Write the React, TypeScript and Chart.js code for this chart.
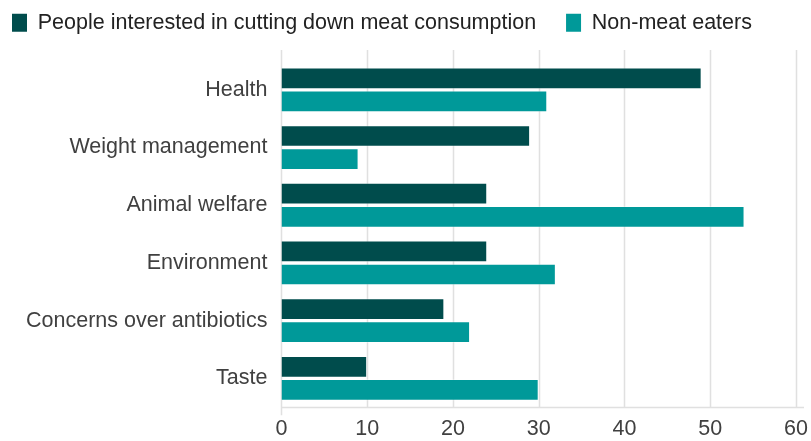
import React, { useEffect, useRef } from "react";
import { Chart, registerables } from "chart.js";

Chart.register(...registerables);

const categories = [
  "Health",
  "Weight management",
  "Animal welfare",
  "Environment",
  "Concerns over antibiotics",
  "Taste",
];
const seriesNames = [
  "People interested in cutting down meat consumption",
  "Non-meat eaters",
];
const reducers = [49, 29, 24, 24, 19, 10];
const nonMeatEaters = [31, 9, 54, 32, 22, 30];
const xTicks = [0, 10, 20, 30, 40, 50, 60];

const FONT = "'Liberation Sans', Arial, sans-serif";
const TEXT = "#404040";
const GRID = "#e0e0e0";

const legendMargin = {
  id: "legendMargin",
  beforeInit(chart: any) {
    const legend = chart.legend;
    if (!legend) return;
    const fit = legend.fit;
    legend.fit = function () {
      fit.call(legend);
      legend.height += 17.5;
    };
  },
};

const gridPlugin = {
  id: "extGrid",
  beforeDatasetsDraw(chart: any) {
    const { ctx, chartArea } = chart;
    const x = chart.scales.x;
    ctx.save();
    ctx.strokeStyle = GRID;
    ctx.lineWidth = 1.5;
    xTicks.forEach((v, i) => {
      const px = Math.round(x.getPixelForValue(v)) + 0.5;
      ctx.beginPath();
      ctx.moveTo(px, chartArea.top - 11);
      ctx.lineTo(px, chartArea.bottom + (i === 0 ? 8 : 0));
      ctx.stroke();
    });
    ctx.beginPath();
    ctx.moveTo(chartArea.left, Math.round(chartArea.bottom) + 0.5);
    ctx.lineTo(chartArea.right + 8, Math.round(chartArea.bottom) + 0.5);
    ctx.stroke();
    ctx.restore();
  },
};

export default function App() {
  const ref = useRef<HTMLCanvasElement | null>(null);
  useEffect(() => {
    if (!ref.current) return;
    const chart = new Chart(ref.current, {
      type: "bar",
      data: {
        labels: categories,
        datasets: [
          {
            label: seriesNames[0],
            data: reducers,
            backgroundColor: "#004c4c",
            borderColor: "rgba(255,255,255,0.3)",
            borderWidth: 1,
            categoryPercentage: 0.8,
            barPercentage: 0.94,
          },
          {
            label: seriesNames[1],
            data: nonMeatEaters,
            backgroundColor: "#009999",
            borderColor: "rgba(255,255,255,0.3)",
            borderWidth: 1,
            categoryPercentage: 0.8,
            barPercentage: 0.94,
          },
        ],
      },
      options: {
        indexAxis: "y",
        animation: false,
        responsive: true,
        maintainAspectRatio: false,
        layout: { padding: { left: 0, right: 0, top: 0, bottom: 0 } },
        plugins: {
          tooltip: { enabled: false },
          legend: {
            position: "top",
            align: "start",
            labels: {
              boxWidth: 15,
              boxHeight: 18,
              padding: 12,
              color: "#222",
              font: { family: FONT, size: 21.5 },
              generateLabels: (chart: any) => {
                const items = Chart.defaults.plugins.legend.labels.generateLabels(chart);
                return items.map((it: any, i: number) => ({
                  ...it,
                  text: i === 0 ? it.text + "   " : it.text,
                  lineWidth: 0,
                  strokeStyle: "transparent",
                }));
              },
            },
          },
        },
        scales: {
          x: {
            min: 0,
            max: 60,
            ticks: {
              stepSize: 10,
              color: TEXT,
              font: { family: FONT, size: 21.5 },
              padding: 9,
            },
            grid: { display: false, drawTicks: false },
            border: { display: false },
            afterFit: (scale: any) => {
              scale.height -= 10;
              scale.paddingRight = 15;
            },
          },
          y: {
            ticks: {
              color: TEXT,
              font: { family: FONT, size: 21.5 },
              padding: 14,
            },
            grid: { display: false, drawTicks: false },
            border: { display: false },
            afterFit: (scale: any) => {
              scale.width += 12;
            },
          },
        },
      },
      plugins: [legendMargin, gridPlugin],
    } as any);
    return () => chart.destroy();
  }, []);
  return (
    <div style={{ position: "absolute", left: 0, top: 0, width: 811, height: 441 }}>
      <canvas ref={ref} />
    </div>
  );
}
